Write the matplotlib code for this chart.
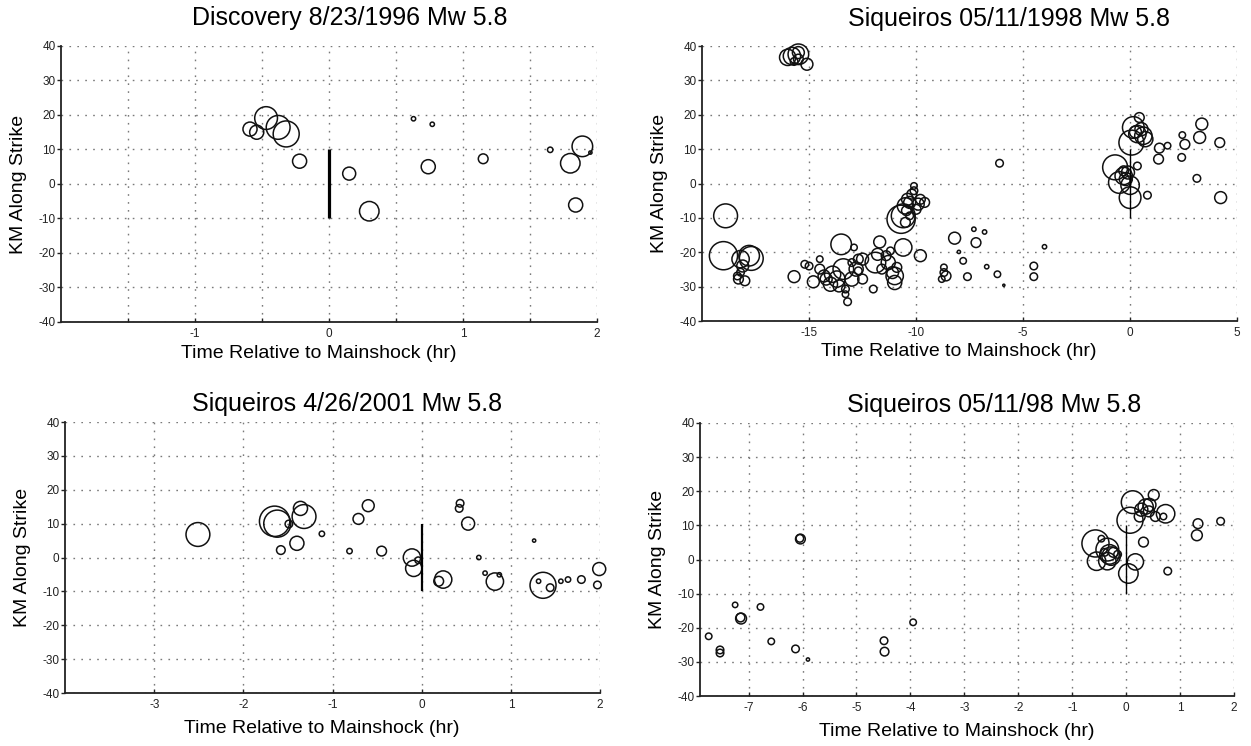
import matplotlib.pyplot as plt

plt.rcParams['font.family'] = ['Liberation Sans', 'DejaVu Sans']

# --- Discovery 8/23/1996 ---
t1 = [-0.59, -0.54, -0.47, -0.38, -0.32, -0.22, 0.15, 0.30, 0.63, 0.77, 0.74, 1.15, 1.65, 1.89, 1.80, 1.84, 1.95]
d1 = [15.9, 15.0, 19.1, 16.4, 14.5, 6.6, 3.0, -7.9, 18.9, 17.3, 5.0, 7.3, 9.9, 10.9, 6.0, -6.1, 9.1]
m1 = [4.3, 4.3, 5.1, 5.2, 5.4, 4.3, 4.2, 4.8, 3.4, 3.4, 4.3, 3.9, 3.5, 4.9, 4.8, 4.3, 3.3]

# --- Siqueiros 05/11/1998 (full) ---
t2 = [-16.0, -15.8, -15.5, -15.5, -15.5, -15.1, -15.7,
      -18.9, -19.0, -18.2, -17.8, -18.1, -18.3, -18.0, -17.7, -18.35, -18.2,
      -15.7, -15.2, -15.0, -14.8, -14.5, -14.3, -14.2, -14.5, -14.0, -13.9, -13.5, -13.4, -13.7,
      -13.6, -13.3, -13.2, -13.3, -13.0, -12.8, -13.0, -12.9, -12.7, -12.5, -12.5, -12.7, -12.0,
      -11.9, -11.8, -11.7, -11.6, -11.3, -11.4, -11.2, -11.1, -11.0, -11.0, -10.9, -10.6,
      -10.7, -10.6, -10.5, -10.4, -10.3, -10.2, -10.1, -10.1, -9.9, -10.0, -10.5, -10.45, -9.8,
      -9.6, -10.3, -9.8,
      -8.2, -8.7, -8.7, -8.6, -8.8, -8.0, -7.8, -7.6, -7.3, -7.2, -6.8, -6.7, -6.2, -5.9, -6.1,
      -4.5, -4.5, -4.0,
      -0.7, -0.5, -0.3, -0.2, -0.1, -0.3, 0.0, 0.0, 0.06, 0.15, 0.34, 0.43, 0.62, 0.53, 0.71,
      0.25, 0.34, 0.81, 1.37, 1.33, 1.75, 2.44, 2.56, 2.41, 3.35, 3.25, 3.12, 4.19, 4.23]
d2 = [36.7, 37.1, 38.1, 36.2, 37.6, 34.7, 35.5,
      -9.4, -21.0, -22.0, -21.0, -24.0, -27.8, -28.3, -21.8, -26.9, -25.8,
      -27.1, -23.5, -24.0, -28.6, -24.9, -26.9, -27.8, -22.0, -29.3, -26.4, -17.7, -24.9, -27.8,
      -29.8, -30.7, -34.4, -32.2, -27.8, -24.9, -23.0, -18.6, -22.0, -27.8, -22.0, -25.4, -30.7,
      -23.0, -20.6, -17.0, -24.9, -23.0, -21.0, -19.6, -25.9, -28.8, -26.9, -24.4, -18.6,
      -10.4, -9.4, -6.5, -4.6, -5.5, -3.1, -2.1, -0.7, -6.0, -7.5, -11.3, -7.9, -4.6,
      -5.5, -9.4, -21.0,
      -15.9, -24.4, -25.9, -26.9, -27.8, -19.9, -22.5, -27.1, -13.3, -17.2, -14.1, -24.2, -26.4, -29.6, 5.9,
      -24.0, -27.1, -18.4,
      4.7, 0.3, 2.2, 1.3, 3.2, 3.7, -0.5, -4.1, 11.9, 16.3, 14.4, 19.2, 13.9, 15.8, 12.9,
      15.0, 5.1, -3.4, 10.3, 7.1, 11.0, 14.1, 11.4, 7.6, 17.3, 13.4, 1.5, 11.9, -4.1]
m2 = [4.5, 4.6, 4.1, 3.9, 4.9, 4.1, 3.7,
      5.2, 5.6, 4.6, 4.9, 4.1, 3.9, 3.9, 5.2, 3.7, 3.7,
      4.1, 3.7, 3.7, 4.1, 3.9, 4.1, 4.1, 3.6, 4.3, 4.5, 4.9, 4.9, 4.5,
      4.1, 3.7, 3.7, 3.6, 4.3, 4.3, 3.7, 3.6, 3.9, 3.9, 4.1, 3.7, 3.7,
      4.9, 4.1, 4.1, 3.9, 4.3, 3.9, 3.7, 4.1, 4.3, 4.6, 3.9, 4.6,
      5.6, 5.2, 4.5, 4.1, 4.1, 3.9, 3.7, 3.6, 4.1, 3.9, 3.9, 3.9, 3.9,
      3.9, 3.7, 4.1,
      4.1, 3.6, 3.7, 3.9, 3.6, 3.3, 3.6, 3.7, 3.4, 3.9, 3.4, 3.4, 3.6, 3.2, 3.7,
      3.7, 3.7, 3.4,
      5.3, 5.0, 4.6, 4.2, 4.2, 3.9, 4.7, 5.0, 5.3, 5.0, 4.6, 3.9, 4.6, 4.2, 4.4,
      4.1, 3.7, 3.7, 3.9, 3.9, 3.6, 3.6, 3.9, 3.7, 4.1, 4.1, 3.7, 3.9, 4.1]

# --- Siqueiros 4/26/2001 ---
t3 = [-2.51, -1.65, -1.62, -1.49, -1.58, -1.40, -1.36, -1.32, -1.12, -0.81, -0.71, -0.60, -0.45,
      -0.11, -0.09, -0.04, 0.43, 0.42, 0.52, 0.64, 0.24, 0.19, 0.71, 0.82, 0.87, 1.26, 1.36, 1.31,
      1.44, 1.56, 1.64, 1.79, 1.97, 1.99]
d3 = [6.8, 10.7, 10.0, 9.9, 2.2, 4.2, 14.5, 12.1, 7.0, 1.9, 11.4, 15.3, 1.9,
      0.0, -3.2, -0.8, 16.0, 14.5, 10.0, 0.0, -6.5, -7.0, -4.6, -7.1, -5.1, 5.0, -8.2, -7.0,
      -8.9, -7.0, -6.5, -6.5, -8.1, -3.4]
m3 = [5.2, 5.8, 5.5, 3.7, 3.8, 4.3, 4.3, 5.2, 3.5, 3.5, 4.0, 4.1, 3.9,
      4.6, 4.5, 3.6, 3.7, 3.7, 4.2, 3.4, 4.6, 3.9, 3.4, 4.6, 3.4, 3.3, 5.4, 3.4,
      3.7, 3.4, 3.5, 3.7, 3.7, 4.2]

# --- Siqueiros 05/11/98 (zoom) ---
t4 = [-7.74, -7.53, -7.53, -7.25, -7.14, -7.15, -6.78, -6.58, -6.13, -6.04, -6.05, -5.90, -4.49, -4.48, -3.95,
      -0.57, -0.55, -0.46, -0.35, -0.31, -0.28, -0.35, -0.24, -0.40, -0.16, 0.17, 0.04, 0.07, 0.12,
      0.28, 0.25, 0.36, 0.43, 0.42, 0.51, 0.32, 0.54, 0.73, 0.77, 1.33, 1.31, 1.75, 0.69]
d4 = [-22.5, -26.5, -27.4, -13.3, -17.3, -17.0, -13.9, -24.0, -26.2, 6.0, 6.2, -29.3, -23.8, -27.0, -18.4,
      4.7, -0.5, 6.1, 2.9, 1.5, 1.0, -0.5, 2.1, 2.1, 1.5, -0.7, -4.1, 11.5, 16.8,
      14.6, 12.6, 15.5, 16.0, 14.1, 18.9, 5.1, 12.6, 13.4, -3.4, 10.5, 7.1, 11.2, 12.6]
m4 = [3.6, 3.7, 3.7, 3.5, 4.0, 3.8, 3.6, 3.6, 3.7, 3.9, 3.7, 3.3, 3.7, 3.8, 3.6,
      5.5, 4.7, 3.6, 5.1, 4.8, 4.7, 4.6, 3.9, 3.7, 3.7, 4.5, 4.8, 5.4, 5.1,
      4.2, 4.0, 4.4, 4.2, 4.0, 4.0, 3.9, 3.9, 4.7, 3.7, 3.9, 4.0, 3.7, 3.6]

titles = ['Discovery 8/23/1996 Mw 5.8', 'Siqueiros 05/11/1998 Mw 5.8',
          'Siqueiros 4/26/2001 Mw 5.8', 'Siqueiros 05/11/98 Mw 5.8']
xlims = [(-2, 2), (-20, 5), (-4, 2), (-7.9, 2)]
xgrid = [[-1.5, -1, -0.5, 0, 0.5, 1, 1.5, 2], [-15, -10, -5, 0, 5],
         [-3, -2, -1, 0, 1, 2], [-7, -6, -5, -4, -3, -2, -1, 0, 1, 2]]
yticks = [40, 30, 20, 10, 0, -10, -20, -30, -40]

# layout in figure fractions: left, bottom, width, height
boxes = [(0.0488, 0.5684, 0.4285, 0.3700), (0.5612, 0.5697, 0.4277, 0.3686),
         (0.0520, 0.0710, 0.4277, 0.3633), (0.5596, 0.0670, 0.4269, 0.3660)]
title_x = [0.539, 0.574, 0.527, 0.551]
title_y = [1.10, 1.10, 1.068, 1.065]
xlab_y = [-0.115, -0.11, -0.13, -0.13]
shock_lw = [2.3, 1.0, 1.6, 1.0]

fig = plt.figure(figsize=(12.51, 7.46), dpi=100)
data = [(t1, d1, m1), (t2, d2, m2), (t3, d3, m3), (t4, d4, m4)]

for i, (t, d, m) in enumerate(data):
    ax = fig.add_axes(boxes[i])
    sizes = [(7.8 * (mm - 3.0)) ** 2 for mm in m]
    ax.scatter(t, d, s=sizes, facecolors='none', edgecolors='#111111', linewidths=1.1,
               zorder=3, clip_on=False)
    ax.vlines(0, -10, 10, color='k', lw=shock_lw[i], zorder=4)
    ax.set_xlim(*xlims[i])
    ax.set_ylim(-40, 40)
    ax.set_xticks(xgrid[i])
    ax.set_xticklabels(['%g' % v if float(v).is_integer() else '' for v in xgrid[i]])
    ax.set_yticks(yticks)
    ax.set_yticklabels([str(v) for v in yticks])
    ax.grid(True, color='#7a7a7a', lw=1.0, ls=(0, (1.2, 4.5)))
    ax.set_axisbelow(True)
    for s in ['top', 'right']:
        ax.spines[s].set_visible(False)
    for s in ['left', 'bottom']:
        ax.spines[s].set_linewidth(1.3)
        ax.spines[s].set_color('#222222')
    ax.tick_params(axis='y', direction='out', length=3, width=1, labelsize=8.5, colors='#222222', pad=1)
    ax.tick_params(axis='x', direction='in', length=3, width=1, labelsize=8.5, colors='#222222', pad=4)
    ax.text(title_x[i], title_y[i], titles[i], transform=ax.transAxes, ha='center', va='center', fontsize=18)
    ax.text(0.48, xlab_y[i], 'Time Relative to Mainshock (hr)', transform=ax.transAxes,
            ha='center', va='center', fontsize=14)
    ax.text(-0.08, 0.5, 'KM Along Strike', transform=ax.transAxes, rotation=90,
            ha='center', va='center', fontsize=14)

plt.savefig('out.png', dpi=100)
